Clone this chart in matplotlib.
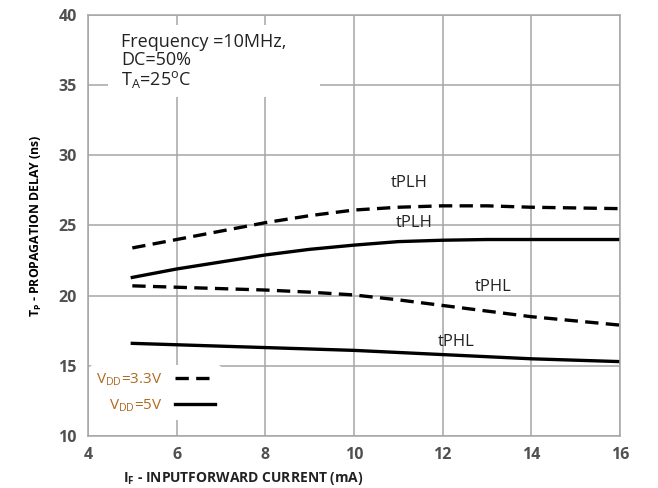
import numpy as np
import matplotlib.pyplot as plt
from matplotlib.lines import Line2D
from matplotlib.patches import Rectangle

plt.rcParams['font.family'] = ['Open Sans', 'DejaVu Sans']

# input forward current (mA)
current = [5, 6, 7, 8, 9, 10, 11, 12, 13, 14, 15, 16]

# propagation delay (ns)
tplh_33v = [23.4, 24.0, 24.6, 25.2, 25.7, 26.1, 26.3, 26.4, 26.4, 26.3, 26.25, 26.2]
tplh_5v = [21.3, 21.9, 22.4, 22.9, 23.3, 23.6, 23.85, 23.95, 24.0, 24.0, 24.0, 24.0]
tphl_33v = [20.7, 20.6, 20.5, 20.4, 20.25, 20.05, 19.7, 19.3, 18.9, 18.5, 18.2, 17.9]
tphl_5v = [16.6, 16.5, 16.4, 16.3, 16.2, 16.1, 15.95, 15.8, 15.65, 15.5, 15.4, 15.3]

x_ticks = [4, 6, 8, 10, 12, 14, 16]
y_ticks = [10, 15, 20, 25, 30, 35, 40]

grid_col = '#a6a6a6'
dash = (0, (4, 2.2))

fig = plt.figure(figsize=(6.58, 4.88), dpi=100)
ax = fig.add_axes([0.1337, 0.1066, 0.8085, 0.8627])

ax.plot(current, tplh_33v, color='black', lw=2.4, linestyle=dash)
ax.plot(current, tplh_5v, color='black', lw=2.4)
ax.plot(current, tphl_33v, color='black', lw=2.4, linestyle=dash)
ax.plot(current, tphl_5v, color='black', lw=2.4)

ax.set_xlim(4, 16)
ax.set_ylim(10, 40)
ax.set_xticks(x_ticks)
ax.set_yticks(y_ticks)
ax.grid(True, color=grid_col, lw=1.1)
ax.set_axisbelow(True)
for s in ax.spines.values():
    s.set_color(grid_col)
    s.set_linewidth(1.1)
ax.tick_params(length=0, labelsize=11.5, colors='#505050', pad=8)
for lab in ax.get_xticklabels() + ax.get_yticklabels():
    lab.set_fontweight('bold')

# curve labels
for xl, yl, txt in [(11.24, 28.0, 'tPLH'), (11.35, 25.2, 'tPLH'),
                    (13.14, 20.6, 'tPHL'), (12.3, 16.7, 'tPHL')]:
    ax.text(xl, yl, txt, ha='center', va='center', fontsize=12, color='#222222')

# test conditions box (white area breaks the grid)
ax.add_patch(Rectangle((0.038, 0.805), 0.398, 0.171, transform=ax.transAxes,
                       facecolor='white', edgecolor='none', zorder=1.5))
ax.text(4.75, 38.75, 'Frequency =10MHz,\nDC=50%\nT$_\\mathregular{A}$=25$^\\mathregular{o}$C',
        ha='left', va='top', fontsize=13, color='#222222', linespacing=1.0, zorder=3)

handles = [Line2D([], [], color='black', lw=2.4, linestyle=dash),
           Line2D([], [], color='black', lw=2.4)]
ax.legend(handles, ['V$_\\mathregular{DD}$=3.3V', 'V$_\\mathregular{DD}$=5V'],
          loc='lower left', bbox_to_anchor=(-0.01, 0.02), frameon=True, framealpha=1,
          edgecolor='none', markerfirst=False, fontsize=11, handlelength=2.6,
          labelcolor='#b06a20', labelspacing=0.6)

ax.set_ylabel('T$_\\mathregular{P}$ - PROPAGATION DELAY (ns)', fontsize=8.8,
              fontweight='bold', labelpad=10)
fig.text(0.37, 0.02, 'I$_\\mathregular{F}$ - INPUTFORWARD CURRENT (mA)', ha='center',
         va='center', fontsize=10, fontweight='bold', color='#222222')

fig.savefig('out.png', dpi=100)
